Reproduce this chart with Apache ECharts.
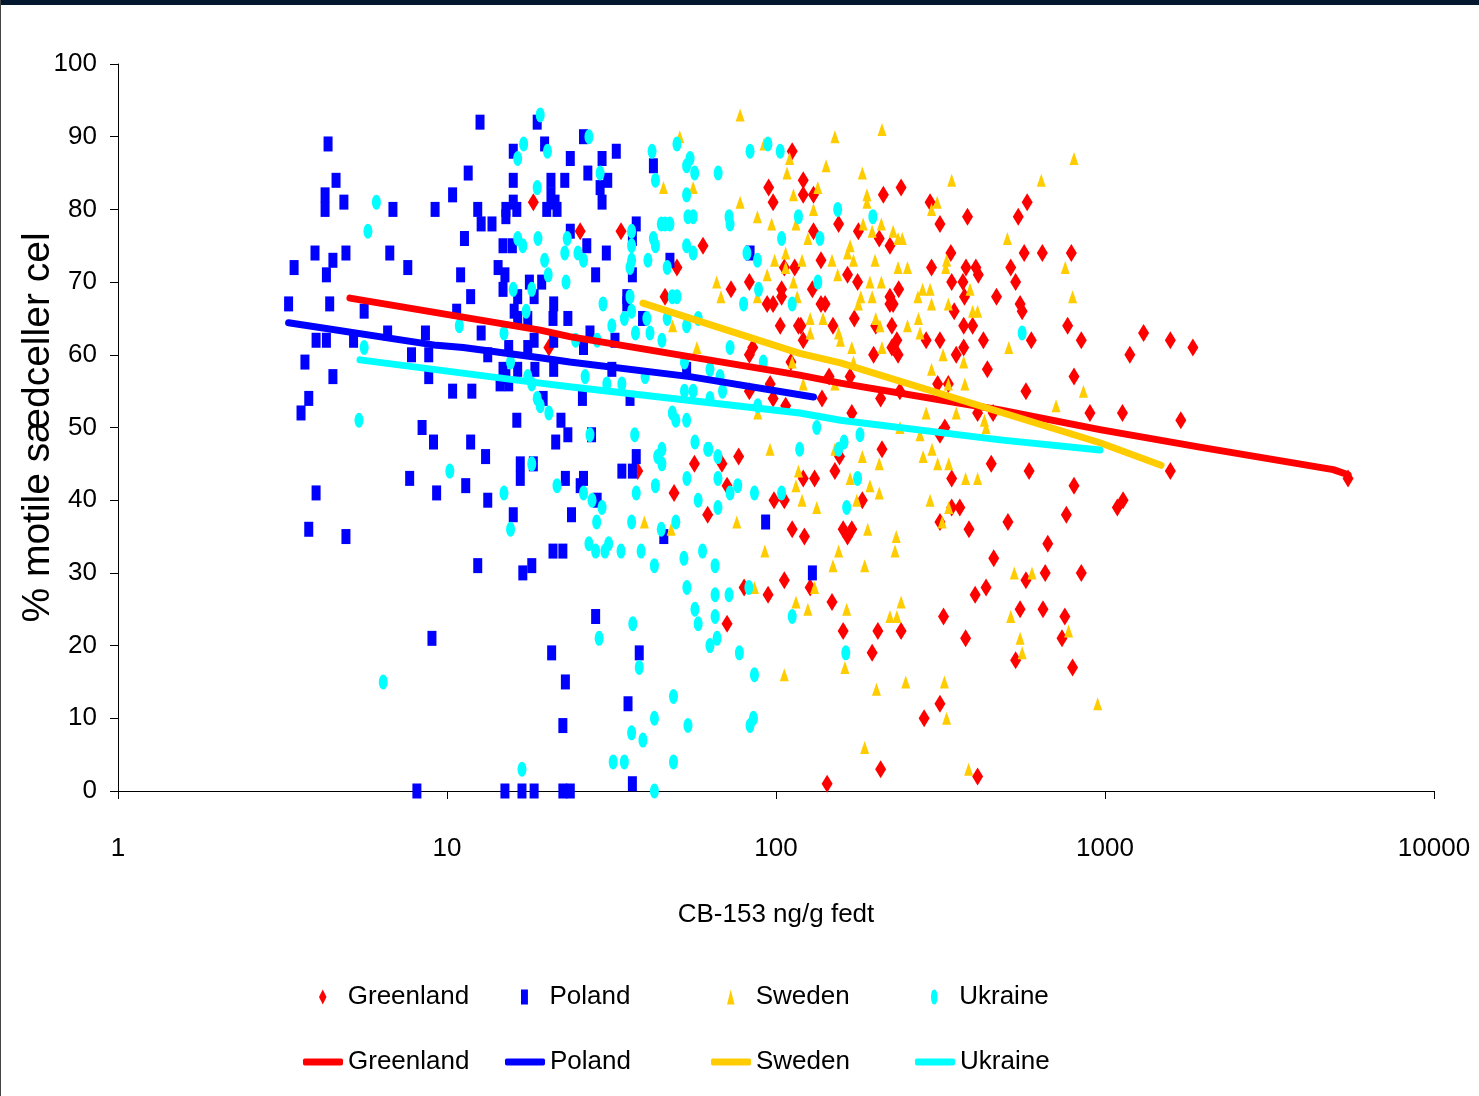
<!DOCTYPE html>
<html><head><meta charset="utf-8">
<script src="https://cdn.jsdelivr.net/npm/echarts@6/dist/echarts.min.js"></script>
<style>html,body{margin:0;padding:0;background:#fff;}#c{width:1479px;height:1096px;}</style>
</head><body><div id="c"></div>
<script>
const countries = ['Greenland', 'Poland', 'Sweden', 'Ukraine'];
const xTickLabels = ['1', '10', '100', '1000', '10000'];
const yTickLabels = ['0', '10', '20', '30', '40', '50', '60', '70', '80', '90', '100'];

const greenlandPts = [
[112,88],[95,83],[98,81],[25.4,77],[33.8,77],[60,75],[50,72],[114,72],[106,72],[83,70],[73,69],[104,69],[46,68],[104,68],
[94,67],[98,67],[103,64],[117,64],[85,61],[20.4,61],[83,60],[111,59],[96,56],[83,55],[98,54],[107,53],[18.3,81],
[121,84],[121,82],[130,82],[212,82],[240,83],[294,81],[580,81],[545,79],[382,79],[315,78],[155,78],[178,77],[206,76],[130,77],
[222,75],[137,73],[340,74],[568,74],[645,74],[790,74],[297,72],[378,72],[405,72],[517,72],[342,70],[370,70],[412,71],[535,70],
[165,71],[177,70],[236,69],[222,68],[129,69],[137,67],[141,67],[222,67],[227,67],[374,68],[468,68],[348,66],[552,67],[560,66],
[173,65],[119,64],[149,64],[201,64],[225,64],[372,64],[396,64],[770,64],[121,62],[233,62],[286,62],[315,62],[427,62],[597,62],
[847,62],[225,61],[372,61],[198,60],[235,60],[353,60],[439,58],[805,57],[145,57],[168,57],[310,56],[334,56],[575,55],[138,54],
[208,54],[238,55],[900,52],[410,52],[457,52],[315,49],[326,50],[170,52],[210,47],
[1310,63],[1580,62],[1850,61],[1190,60],[1130,52],[1700,51],[1580,44],[1090,39],[1135,40],[5480,43],
[56.5,45],[68.5,45],[77,46],[38,44],[49,41],[71,42],[62,38],[98.6,40],[106,40],[112,36],[80,28],[94.6,27],[106,29],[71,23],
[156,46],[151,44],[121,43],[131,43],[183,40],[122,35],[160,36],[170,36],[165,35],[342,43],[451,45],[588,44],[805,42],
[315,37],[342,39],[362,39],[386,36],[507,37],[763,38],[670,34],[459,32],[127,28],[148,26],[403,27],[435,28],[575,29],[658,30],
[847,30],[323,24],[552,25],[648,25],[755,24],[160,22],[204,22],[240,22],[377,21],[740,21],[196,19],[535,18],[797,17],
[315,12],[282,10],[208,3],[410,2],[143,1]
];

const polandPts = [
[12.6,92],[18.8,92],[4.35,89],[19.8,89],[15.9,88],[23.7,87],[4.6,84],[11.6,85],[15.9,84],[20.7,84],[22.8,84],[4.26,82],
[4.86,81],[10.4,82],[15.9,81],[20.7,82],[21.3,81],[4.26,80],[6.85,80],[9.2,80],[12.4,80],[12.7,78],[13.7,78],[15.1,80],
[15.1,79],[16.3,80],[20.1,80],[21.6,80],[11.3,76],[14.8,75],[15.8,75],[23.7,77],[3.97,74],[4.93,74],[6.7,74],[4.5,73],
[3.43,72],[4.3,71],[7.6,72],[11,71],[14.3,72],[15,71],[14.8,69],[17.8,70],[19.4,70],[11.8,68],[16.4,68],[18.4,68],[3.3,67],
[4.4,67],[5.6,66],[10.7,66],[16,66],[21.1,67],[21,65],[16.4,65],[17.6,65],[23.3,65],[6.6,63],[8.6,63],[12.7,63],[4.0,62],
[4.3,62],[5.2,62],[18.4,62],[21.1,62],[15.4,61],[17.6,61],[3.7,59],[7.8,60],[8.8,60],[13.3,60],[4.5,57],[8.8,57],[14.8,58],
[15.1,57],[16.4,58],[18.5,58],[21.1,58],[3.8,54],[10.4,55],[11.9,55],[14.5,56],[15.4,56],[3.6,52],[19.6,54],[16.3,51],
[22.2,51],[8.4,50],[23.3,49],[9.1,48],[11.8,48],[21.4,48],
[4.0,41],[3.8,36],[4.93,35],[7.7,43],[9.3,41],[13.1,46],[11.4,42],[13.3,40],[16.7,45],[18.3,45],[16.7,43],[15.9,38],[12.4,31],
[17,30],[18.1,31],[21,33],[22.5,33],[22.9,43],[9.0,21],[20.8,19],[22.9,15],[22.5,9],[8.1,0],[15,0],[16.9,0],[18.4,0],[22.5,0],
[26,90],[32.7,88],[29.6,87],[26.8,85],[30.8,84],[29.2,83],[29.6,81],[26.6,75],[30.5,74],[28.3,71],[37.6,78],[36.6,76],
[42.4,86],[47.6,73],[36.6,71],[35.2,68],[35.2,67],[39.3,65],[27.2,63],[32.4,62],[26,61],[31.7,58],[53.5,58],[36,54],
[25.8,54],[27.5,49],[83.4,74],
[37.6,46],[34,44],[36.6,44],[26,43],[25.4,42],[28.6,40],[23.9,38],[28.3,24],[38.4,19],[35.5,12],[23.7,0],[36.6,1],[45.6,35],
[93,37],[129,30]
];

const swedenPts = [
[77.8,93],[51,90],[92,89],[110,87],[108,85],[45.5,83],[56,83],[113,82],[77.8,81],[87.8,79],[97,78],[115,78],[107,74],[99,73],
[107,72],[94,71],[66,70],[113,70],[68,68],[87.8,68],[116,68],[48.5,64],[57.5,61],[112,59],[88,52],[95.9,47],
[151,90],[210,91],[142,86],[183,85],[342,84],[640,84],[805,87],[134,83],[189,82],[189,81],[130,80],[184,78],[209,78],[196,77],
[227,77],[242,76],[235,76],[125,76],[309,81],[297,80],[505,76],[168,75],[165,74],[172,73],[148,73],[120,73],[200,73],[235,72],
[251,72],[330,73],[328,72],[154,71],[193,70],[209,70],[279,69],[294,69],[270,68],[181,68],[196,68],[178,67],[297,67],[334,67],
[389,69],[396,66],[410,66],[757,72],[797,68],[127,65],[139,65],[201,65],[207,64],[251,64],[271,65],[274,63],[127,63],[155,63],
[157,62],[170,61],[210,61],[322,60],[510,61],[172,59],[297,58],[372,59],[121,56],[151,56],[375,56],[334,56],[710,53],[860,55],
[430,51],[286,52],[353,52],[238,50],[274,49],[435,50],
[117,44],[115,42],[120,40],[133,39],[39.8,37],[48,36],[76,37],[92.5,33],[149,31],[86,28],[131,28],[115,26],[125,25],[106,16],
[155,33],
[151,47],[183,46],[206,45],[168,43],[193,42],[206,41],[176,40],[190,36],[232,35],[230,33],[186,31],[164,25],[240,26],[222,24],
[233,24],[162,17],[202,14],[248,15],[325,15],[330,10],[186,6],[385,3],[280,46],[298,47],[310,45],[335,45],[377,43],[410,43],
[294,40],[335,39],[320,37],[530,30],[600,30],[517,24],[552,21],[560,19],[775,22],[950,12]
];

const ukrainePts = [
[19.2,93],[17.1,89],[16.4,87],[20.2,88],[18.8,83],[6.1,81],[5.75,77],[16.4,76],[17,75],[18.9,76],[22.8,74],[19.8,73],[20.3,71],
[23,70],[15.9,69],[18.1,69],[17.4,66],[10.9,64],[14.9,63],[5.6,61],[15.6,59],[17.6,57],[18.1,56],[18.8,54],[19.2,53],[20.4,52],
[5.4,51],
[10.2,44],[18.1,45],[14.9,41],[21.6,42],[15.6,36],[6.4,15],[16.9,3],
[27,90],[29.2,85],[42,88],[50,89],[53.5,86],[54.8,87],[56.6,85],[66.7,85],[94.5,89],[103,88],[83.4,88],[43,84],[53.5,82],
[54,79],[56,79],[72,79],[72.5,78],[44.8,78],[46,78],[47.6,78],[42.4,76],[43,75],[36.4,77],[36.4,75],[53.5,75],[56,74],[81.6,74],
[87.8,73],[104,76],[117,79],[136,76],[154,80],[23.2,76],[25,74],[26,73],[40.8,73],[36,72],[36.4,73],[46.7,72],[50,68],[48.4,68],
[36,68],[36.4,66],[29.8,67],[34.6,65],[31.7,64],[37.4,63],[40.5,65],[46.7,65],[41.4,63],[45,62],[53.5,64],[58,65],[79.7,67],
[88.5,69],[112,67],[72.5,61],[134,70],[28.6,62],[24.6,62],[26.3,57],[30.6,56],[34,56],[40,57],[52.7,59],[63,58],[67.6,57],
[52.7,55],[56,55],[63,54],[68.8,55],[91.5,59],[88,53],[48.4,52],[49.6,51],[53.5,51],[37.2,49],[27.2,49],[56.7,48],[118,47],
[133,50],[62,47],
[43.7,46],[45,47],[45,45],[53.6,43],[62.5,47],[66.6,46],[37.6,41],[43,42],[66.6,43],[76.5,42],[72.5,41],[86,41],[104,41],
[58,40],[26,41],[27.6,40],[29.6,39],[28.5,37],[36.4,37],[49.6,37],[66.6,39],[44.8,36],[27,34],[28.3,33],[31,34],[30.2,33],
[33.8,33],[38.9,33],[42.7,31],[52.5,32],[59.8,33],[65.3,31],[53.6,28],[65.3,27],[72,27],[82.7,28],[56.7,25],[58,23],[65.3,24],
[63,20],[66.2,21],[77.4,19],[112,24],[36.7,23],[29,21],[38.4,17],[86,16],[48.8,13],[42.7,10],[54,9],[83.4,9],[85.4,10],[36.4,8],
[39.4,7],[32,4],[34.6,4],[48.8,4],[42.7,0],
[155,47],[161,48],[180,49],[177,43],[164,39],[163,19],[197,79],[560,63]
];

const greenlandTrend = [[5.07,67.8],[19.2,63.4],[23.6,62.5],[118,57.2],[157,56.1],[480,52.4],[965,49.7],[1940,47.3],[4940,44.2],[5480,43.5]];
const polandTrend = [[3.3,64.4],[9.3,61.3],[11.2,61],[19.2,59.6],[23.6,59],[54.7,57],[130,54.2]];
const swedenTrend = [[39.4,67.1],[118,60.2],[157,58.9],[965,47.9],[1480,44.8]];
const ukraineTrend = [[5.44,59.3],[19.2,56.1],[23.6,55.6],[118,52],[157,51],[480,48.3],[965,46.9]];

const colors = ['#FF0000', '#0000FF', '#FFCC00', '#00FFFF'];
const scatterData = [greenlandPts, polandPts, swedenPts, ukrainePts];
const trendData = [greenlandTrend, polandTrend, swedenTrend, ukraineTrend];
const symbols = ['diamond', 'rect', 'triangle', 'circle'];
const symbolSizes = [[11, 18], [9, 15], [9, 13], [9, 15]];
const legendIcons = [
  'path://M4,0L8,8L4,16L0,8Z',
  'path://M0,0H6V13H0Z',
  'path://M3,0L6,12H0Z',
  'path://M3,0C5,0 6,3 6,7C6,11 5,14 3,14C1,14 0,11 0,7C0,3 1,0 3,0Z'
];
const legendLefts = [303, 505, 711, 915];

const font = "'Liberation Sans', Arial, sans-serif";
const chart = echarts.init(document.getElementById('c'));

const series = [];
countries.forEach((n, i) => {
  series.push({
    type: 'scatter', name: n, data: scatterData[i], symbol: symbols[i], symbolSize: symbolSizes[i],
    itemStyle: { color: colors[i], opacity: 1 }, clip: false, z: 2, silent: true
  });
});
countries.forEach((n, i) => {
  series.push({
    type: 'line', name: n + ' trend', data: trendData[i], showSymbol: false, symbol: 'none',
    lineStyle: { width: 7, color: colors[i], cap: 'round', join: 'round' },
    itemStyle: { color: colors[i] }, z: 3, silent: true
  });
});

const legendText = { fontFamily: font, fontSize: 26, color: '#000' };
const legends = [];
countries.forEach((n, i) => {
  legends.push({
    data: [{ name: n, icon: legendIcons[i] }],
    left: legendLefts[i] + 16, top: 984, padding: 0, itemWidth: 40, itemHeight: 15, selectedMode: false,
    textStyle: legendText
  });
  legends.push({
    data: [{ name: n + ' trend', icon: 'roundRect' }],
    left: legendLefts[i], top: 1049, padding: 0, itemWidth: 40, itemHeight: 7, selectedMode: false,
    formatter: s => s.replace(' trend', ''),
    textStyle: legendText
  });
});

chart.setOption({
  animation: false,
  backgroundColor: '#fff',
  graphic: [
    { type: 'rect', left: 0, top: 0, shape: { width: 1479, height: 5 }, style: { fill: '#03172f' } },
    { type: 'rect', left: 0, top: 0, shape: { width: 1, height: 1096 }, style: { fill: '#444' } }
  ],
  grid: { left: 118, right: 45, top: 64, bottom: 305, containLabel: false, outerBoundsMode: 'none' },
  xAxis: {
    type: 'log', logBase: 10, min: 1, max: 10000,
    name: 'CB-153 ng/g fedt', nameLocation: 'middle', nameGap: 111, nameMoveOverlap: false,
    nameTextStyle: { fontFamily: font, fontSize: 26, color: '#000' },
    axisLine: { show: true, lineStyle: { color: '#000', width: 1 } },
    axisTick: { show: true, inside: false, length: 8, lineStyle: { color: '#000' } },
    minorTick: { show: false },
    splitLine: { show: false },
    axisLabel: {
      fontFamily: font, fontSize: 26, color: '#000', margin: 45,
      formatter: v => xTickLabels[Math.round(Math.log10(v))]
    }
  },
  yAxis: {
    type: 'value', min: 0, max: 100, interval: 10,
    name: '% motile sædceller cel', nameLocation: 'middle', nameRotate: 90, nameGap: 60, nameMoveOverlap: false,
    nameTextStyle: { fontFamily: font, fontSize: 39, color: '#000' },
    axisLine: { show: true, lineStyle: { color: '#000', width: 1 } },
    axisTick: { show: true, inside: false, length: 8, lineStyle: { color: '#000' } },
    splitLine: { show: false },
    axisLabel: {
      fontFamily: font, fontSize: 26, color: '#000', margin: 21,
      formatter: v => yTickLabels[Math.round(v / 10)]
    }
  },
  legend: legends,
  series: series
});
</script>
</body></html>
